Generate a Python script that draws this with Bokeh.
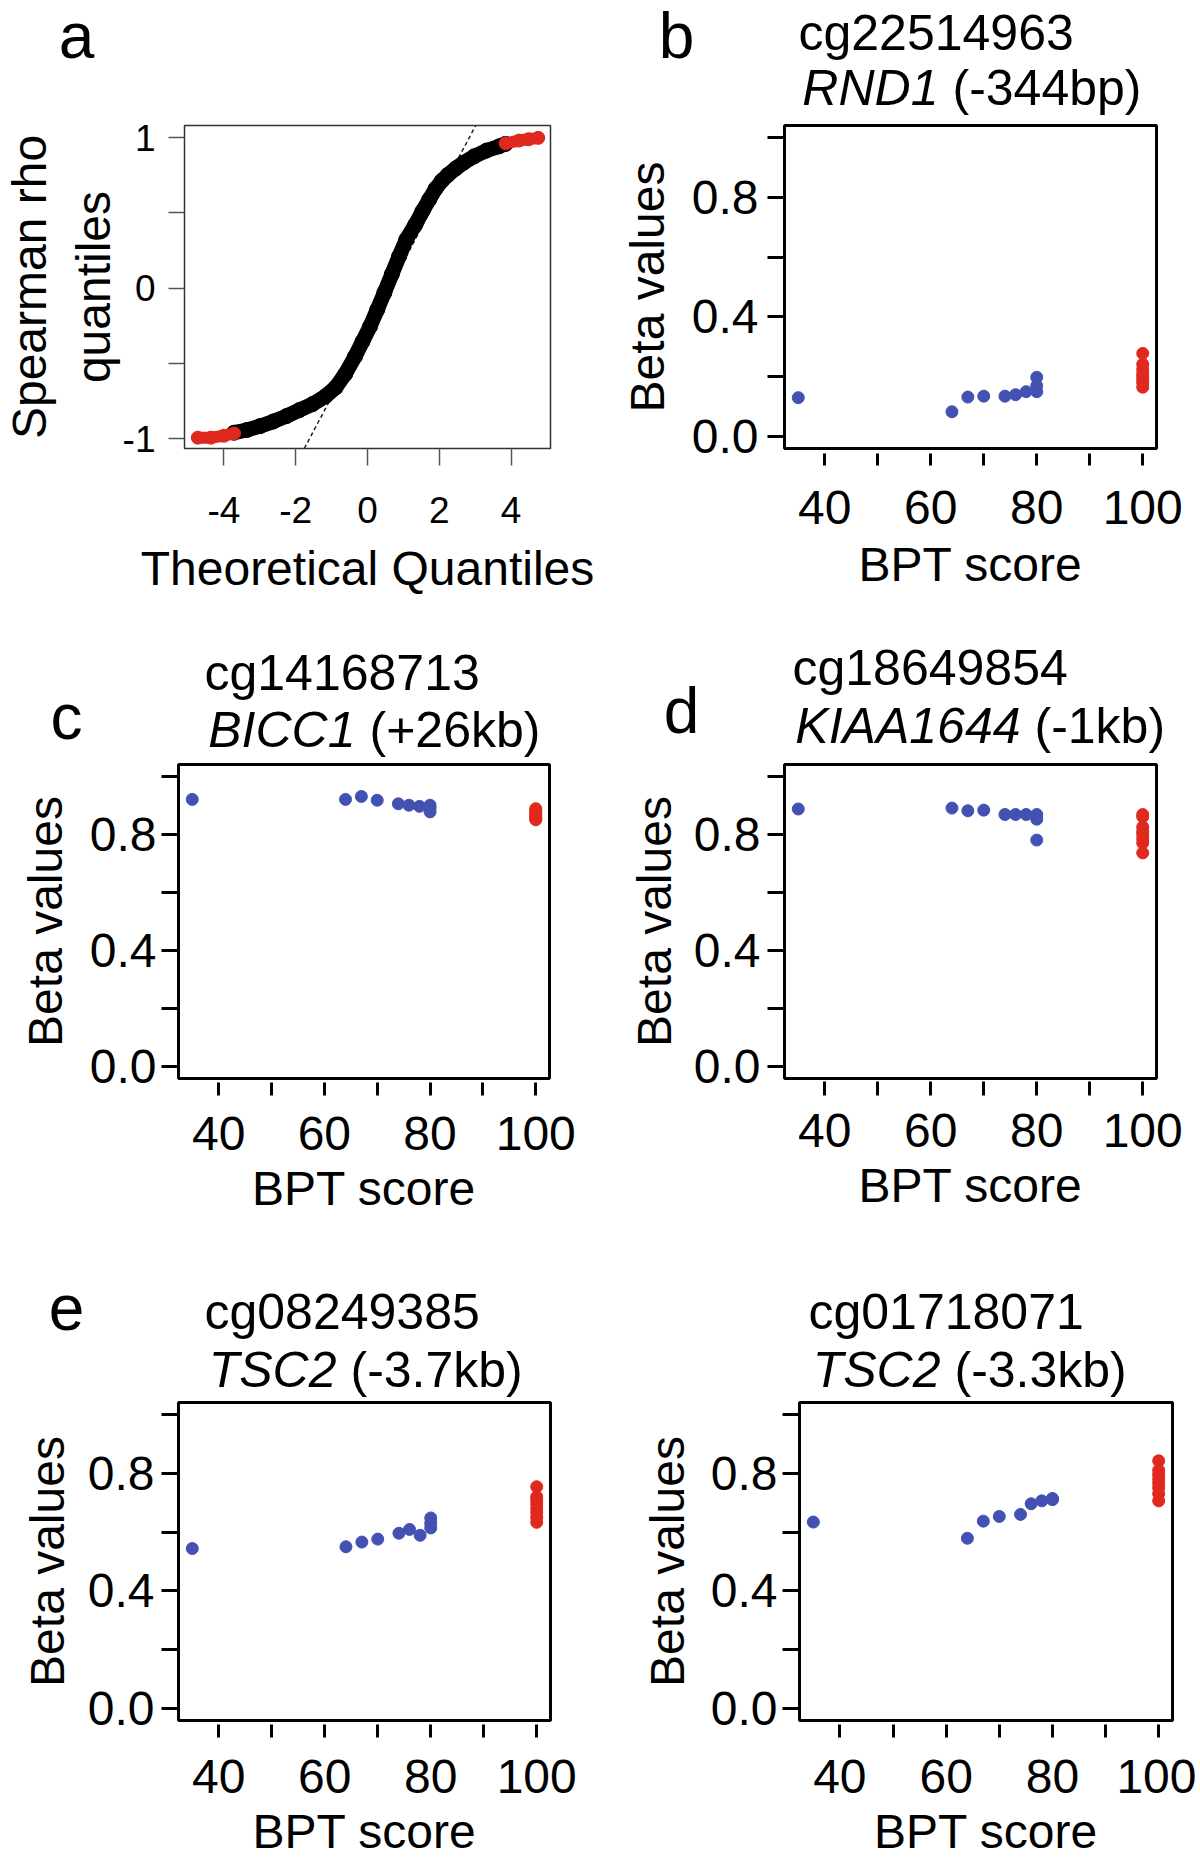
from bokeh.plotting import figure
from bokeh.models import Range1d, FixedTicker, Slope
from bokeh.layouts import column, row
from bokeh.core.properties import value
from bokeh.embed import file_html
from bokeh.resources import INLINE

FONT = "Liberation Sans"
BLUE = "#4351B3"
RED = "#E0291E"

# ---------------- data ----------------
# panel a: QQ plot of Spearman rho
qq_low_x = [-4.73, -4.36, -4.00, -3.72]
qq_low_y = [-0.993, -0.993, -0.980, -0.965]
qq_mid_x = [-3.72, -3.36, -2.99, -2.63, -2.26, -1.90, -1.53, -1.17, -0.89, -0.62,
            -0.35, -0.14, 0.07, 0.27, 0.47, 0.68, 0.88, 1.08, 1.33, 1.53,
            1.72, 1.90, 2.07, 2.24, 2.46, 2.68, 2.98, 3.32, 3.67, 3.85]
qq_mid_y = [-0.960, -0.942, -0.916, -0.886, -0.850, -0.810, -0.770, -0.718, -0.660, -0.570,
            -0.455, -0.355, -0.255, -0.144, -0.030, 0.093, 0.211, 0.322, 0.421, 0.510,
            0.588, 0.661, 0.712, 0.752, 0.795, 0.833, 0.876, 0.914, 0.942, 0.958]
qq_high_x = [3.85, 4.22, 4.49, 4.76]
qq_high_y = [0.962, 0.980, 0.989, 0.998]
qq_ref_intercept = -0.274
qq_ref_slope = 0.449

# panels b-f: beta values vs BPT score
bpt_low = [35, 64, 67, 70, 74, 76, 78, 80, 80, 80]
bpt_high = [100, 100, 100, 100, 100, 100, 100, 100]

b_low_beta = [0.130, 0.083, 0.132, 0.135, 0.135, 0.140, 0.150, 0.198, 0.170, 0.150]
b_high_beta = [0.278, 0.242, 0.225, 0.210, 0.200, 0.190, 0.180, 0.165]
c_low_beta = [0.920, 0.920, 0.930, 0.917, 0.905, 0.900, 0.896, 0.900, 0.890, 0.877]
c_high_beta = [0.888, 0.882, 0.876, 0.870, 0.864, 0.858, 0.853, 0.850]
d_low_beta = [0.887, 0.890, 0.881, 0.883, 0.868, 0.868, 0.868, 0.868, 0.852, 0.780]
d_high_beta = [0.868, 0.860, 0.825, 0.810, 0.800, 0.785, 0.770, 0.736]
e_low_beta = [0.544, 0.550, 0.566, 0.576, 0.596, 0.609, 0.589, 0.648, 0.630, 0.614]
e_high_beta = [0.754, 0.720, 0.710, 0.696, 0.680, 0.666, 0.650, 0.633]
f_low_beta = [0.634, 0.579, 0.637, 0.653, 0.660, 0.696, 0.706, 0.712, 0.710, 0.714]
f_high_beta = [0.842, 0.810, 0.795, 0.780, 0.765, 0.750, 0.730, 0.706]

probe_ids = ["cg22514963", "cg14168713", "cg18649854", "cg08249385", "cg01718071"]
gene_names = ["RND1", "BICC1", "KIAA1644", "TSC2", "TSC2"]
gene_offsets = ["(-344bp)", "(+26kb)", "(-1kb)", "(-3.7kb)", "(-3.3kb)"]
panel_letters = ["a", "b", "c", "d", "e"]

bpt_ticks = [40, 50, 60, 70, 80, 90, 100]
bpt_tick_labels = ["40", "", "60", "", "80", "", "100"]
beta_ticks = [0.0, 0.2, 0.4, 0.6, 0.8, 1.0]
beta_tick_labels = ["0.0", "", "0.4", "", "0.8", ""]
qq_x_ticks = [-4, -2, 0, 2, 4]
qq_x_tick_labels = ["-4", "-2", "0", "2", "4"]
qq_y_ticks = [-1, -0.5, 0, 0.5, 1]
qq_y_tick_labels = ["-1", "", "0", "", "1"]

# ---------------- page grid (pixels) ----------------
PAGE_W = 1196
COL_X = [0, 602]
COL_W = [602, 594]
ROW_Y = [0, 600, 1230]
ROW_H = [600, 630, 635]
HEAD_H = [116, 158, 170]
BASELINE_SHIFT = 0.35   # em offset so that the given y is the text baseline


# ---------------- helpers ----------------
def base_fig(fig_w, fig_h, fl, ft, fw, fh, xr, yr):
    p = figure(width=fig_w, height=fig_h, x_range=xr, y_range=yr, title=None,
               output_backend="svg", toolbar_location=None,
               min_border_left=fl, min_border_top=ft,
               min_border_right=fig_w - fl - fw, min_border_bottom=fig_h - ft - fh)
    p.xgrid.visible = False
    p.ygrid.visible = False
    p.background_fill_color = "white"
    p.border_fill_color = "white"
    return p


def header_fig(r, items):
    h = HEAD_H[r]
    y0 = ROW_Y[r]
    hp = figure(width=PAGE_W, height=h, x_range=Range1d(0, PAGE_W), y_range=Range1d(h, 0),
                title=None, output_backend="svg", toolbar_location=None,
                min_border_left=0, min_border_right=0, min_border_top=0, min_border_bottom=0,
                x_axis_location=None, y_axis_location=None)
    hp.grid.visible = False
    hp.outline_line_color = None
    hp.background_fill_color = "white"
    hp.border_fill_color = "white"
    for text, x, y, size, style, align in items:
        hp.text(x=[x], y=[y - y0 - BASELINE_SHIFT * size], text=[text], text_font=value(FONT),
                text_font_size=value(f"{size}px"), text_font_style=value(style),
                text_align=value(align), text_baseline=value("alphabetic"),
                text_color=value("black"))
    return hp


def style_axis(ax, ticks, labels, tout, tin, twidth, tcolor, lsize, lstand,
               title, tsize, tstand):
    ax.ticker = FixedTicker(ticks=ticks, minor_ticks=[])
    ax.major_label_overrides = {t: l for t, l in zip(ticks, labels)}
    ax.axis_line_color = None
    ax.major_tick_out = tout
    ax.major_tick_in = tin
    ax.major_tick_line_width = twidth
    ax.major_tick_line_color = tcolor
    ax.minor_tick_line_color = None
    ax.major_label_text_font = FONT
    ax.major_label_text_font_size = f"{lsize}px"
    ax.major_label_text_color = "black"
    ax.major_label_standoff = lstand
    ax.axis_label = title
    ax.axis_label_text_font = FONT
    ax.axis_label_text_font_size = f"{tsize}px"
    ax.axis_label_text_font_style = "normal"
    ax.axis_label_text_color = "black"
    ax.axis_label_standoff = tstand


def title_items(i, line1_xy, line2_x, line2_y):
    return [
        (probe_ids[i], line1_xy[0], line1_xy[1], 50, "normal", "left"),
        (gene_names[i], line2_x - 14, line2_y, 50, "italic", "right"),
        (gene_offsets[i], line2_x, line2_y, 50, "normal", "left"),
    ]


def plot_fig(col, r, frame_l, frame_t, fw, fh, xr, yr):
    fig_top = ROW_Y[r] + HEAD_H[r]
    fig_h = ROW_H[r] - HEAD_H[r]
    return base_fig(COL_W[col], fig_h, frame_l - COL_X[col], frame_t - fig_top, fw, fh, xr, yr)


# ---------------- panel a ----------------
pa = plot_fig(0, 0, 178, 125, 372, 323, Range1d(-5.1, 5.1), Range1d(-1.065, 1.08))
pa.outline_line_color = "#333333"
pa.outline_line_width = 1.5
pa.add_layout(Slope(gradient=qq_ref_slope, y_intercept=qq_ref_intercept,
                    line_color="#222222", line_width=1.5, line_dash="4 3", level="underlay"))
pa.line(qq_mid_x, qq_mid_y, line_width=15, color="black", line_join="round", line_cap="round")
pa.scatter(qq_mid_x, qq_mid_y, size=15, color="black")
for xs, ys in ((qq_low_x, qq_low_y), (qq_high_x, qq_high_y)):
    pa.line(xs, ys, line_width=12, color=RED, line_join="round", line_cap="round")
    pa.scatter(xs, ys, size=13, color=RED)
style_axis(pa.xaxis[0], qq_x_ticks, qq_x_tick_labels, 17, 0, 1.5, "#555555", 37, 31,
           "Theoretical Quantiles", 48, 16)
style_axis(pa.yaxis[0], qq_y_ticks, qq_y_tick_labels, 16, 0, 1.5, "#555555", 37, 13,
           "Spearman rho\nquantiles", 48, 0)
pa.yaxis[0].axis_label_text_line_height = 1.2


# ---------------- panels b-f ----------------
def beta_panel(col, r, frame_l, frame_t, fw, fh, low, high, xax, yax):
    p = plot_fig(col, r, frame_l, frame_t, fw, fh, Range1d(32.4, 102.6), Range1d(-0.04, 1.04))
    p.outline_line_color = "black"
    p.outline_line_width = 3
    p.scatter(bpt_low, low, size=12, color=BLUE)
    p.scatter(bpt_high, high, size=12, color=RED)
    tin, tstd, astd = xax
    style_axis(p.xaxis[0], bpt_ticks, bpt_tick_labels, 17, tin, 3, "black", 48, tstd,
               "BPT score", 48, astd)
    ystd, yastd = yax
    style_axis(p.yaxis[0], beta_ticks, beta_tick_labels, 17, 0, 3, "black", 48, ystd,
               "Beta values", 48, yastd)
    return p


pb = beta_panel(1, 0, 784, 125, 372, 323, b_low_beta, b_high_beta, (-5, 25, 11), (9, 15))
pc = beta_panel(0, 1, 178, 764, 371, 314, c_low_beta, c_high_beta, (-4, 21, 9), (5, 15))
pd_ = beta_panel(1, 1, 784, 764, 372, 314, d_low_beta, d_high_beta, (-3, 18, 9), (7, 10))
pe = beta_panel(0, 2, 178, 1402, 372, 318, e_low_beta, e_high_beta, (-4, 22, 9), (7, 11))
pf = beta_panel(1, 2, 799, 1402, 373, 318, f_low_beta, f_high_beta, (-4, 22, 9), (5, 14))

# ---------------- headers (panel letters and titles) ----------------
h1 = header_fig(0, [(panel_letters[0], 76, 58, 64, "normal", "center"),
                    (panel_letters[1], 676, 58, 64, "normal", "center")] +
                title_items(0, (798, 50), 952, 105))
h2 = header_fig(1, [(panel_letters[2], 66, 739, 64, "normal", "center"),
                    (panel_letters[3], 681, 733, 64, "normal", "center")] +
                title_items(1, (204, 690), 369, 747) +
                title_items(2, (792, 685), 1034, 743))
h3 = header_fig(2, [(panel_letters[4], 66, 1329, 64, "normal", "center")] +
                title_items(3, (204, 1329), 350, 1387) +
                title_items(4, (808, 1329), 954, 1387))

layout = column(
    h1, row(pa, pb, spacing=0),
    h2, row(pc, pd_, spacing=0),
    h3, row(pe, pf, spacing=0),
    spacing=0,
)

with open("out.html", "w") as fh_out:
    fh_out.write(file_html(layout, INLINE))
